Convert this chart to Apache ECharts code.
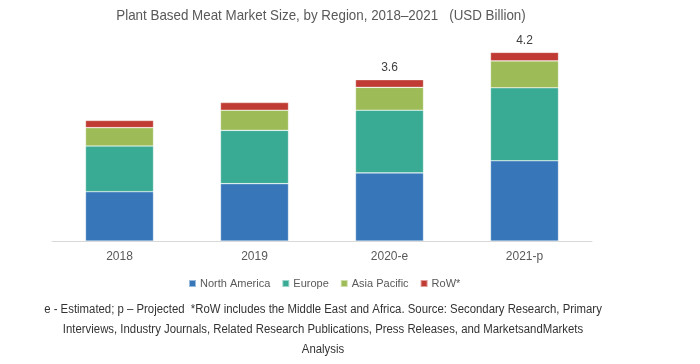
<!DOCTYPE html>
<html>
<head>
<meta charset="utf-8">
<script src="https://cdn.jsdelivr.net/npm/echarts@6/dist/echarts.min.js"></script>
<style>html,body{margin:0;padding:0;background:#fff;}#c{width:700px;height:364px;}</style>
</head>
<body>
<div id="c"></div>
<script>
const categories = ["2018", "2019", "2020-e", "2021-p"];
const northAmerica = [1.10, 1.28, 1.52, 1.79];
const europe = [1.02, 1.19, 1.40, 1.63];
const asiaPacific = [0.41, 0.45, 0.51, 0.60];
const row = [0.16, 0.17, 0.17, 0.19];
const totalLabels = ["", "", "3.6", "4.2"];
const footnotes = [
  "e - Estimated; p \u2013 Projected  *RoW includes the Middle East and Africa. Source: Secondary Research, Primary",
  "Interviews, Industry Journals, Related Research Publications, Press Releases, and MarketsandMarkets",
  "Analysis"
];

const chart = echarts.init(document.getElementById('c'));
const base = '"Liberation Sans", Arial, sans-serif';
const border = {borderColor: 'rgba(255,255,255,0.5)', borderWidth: 0.6};

function mk(name, data, color, extra) {
  return Object.assign({
    name: name, type: 'bar', stack: 'total', data: data, barWidth: 68,
    itemStyle: Object.assign({color: color}, border)
  }, extra || {});
}

chart.setOption({
  animation: false,
  backgroundColor: '#fff',
  legend: {
    data: ['North America', 'Europe', 'Asia Pacific', 'RoW*'],
    left: 183, top: 273, itemWidth: 7, itemHeight: 7, itemGap: 11,
    icon: 'rect',
    textStyle: {fontFamily: base, fontSize: 11, color: '#595959', padding: [0, 0, 0, -1]}
  },
  grid: {left: 52, right: 108, top: 39.4, bottom: 123},
  xAxis: {
    type: 'category', data: categories,
    axisLine: {lineStyle: {color: '#d9d9d9', width: 1}},
    axisTick: {show: false},
    axisLabel: {fontFamily: base, fontSize: 12, color: '#595959', margin: 10}
  },
  yAxis: {type: 'value', min: 0, max: 4.5, show: false, splitLine: {show: false}},
  series: [
    mk('North America', northAmerica, '#3777b9'),
    mk('Europe', europe, '#39aa94'),
    mk('Asia Pacific', asiaPacific, '#9dbb57'),
    mk('RoW*', row, '#bf3b33', {
      label: {
        show: true, position: 'top', distance: 6,
        formatter: p => totalLabels[p.dataIndex],
        fontFamily: base, fontSize: 12, color: '#404040'
      }
    })
  ],
  graphic: [{
    type: 'text', x: 321, y: 16, scaleX: 0.922, scaleY: 1,
    style: {
      text: 'Plant Based Meat Market Size, by Region, 2018\u20132021   (USD Billion)',
      fontFamily: base, fontSize: 14.5, fill: '#595959',
      textAlign: 'center', textVerticalAlign: 'middle'
    }
  }].concat(footnotes.map((t, i) => ({
    type: 'text', x: 323, y: 310 + i * 20, scaleX: 0.91, scaleY: 1,
    style: {text: t, fontFamily: base, fontSize: 12.5, fill: '#333',
      textAlign: 'center', textVerticalAlign: 'middle'}
  })))
});
</script>
</body>
</html>
